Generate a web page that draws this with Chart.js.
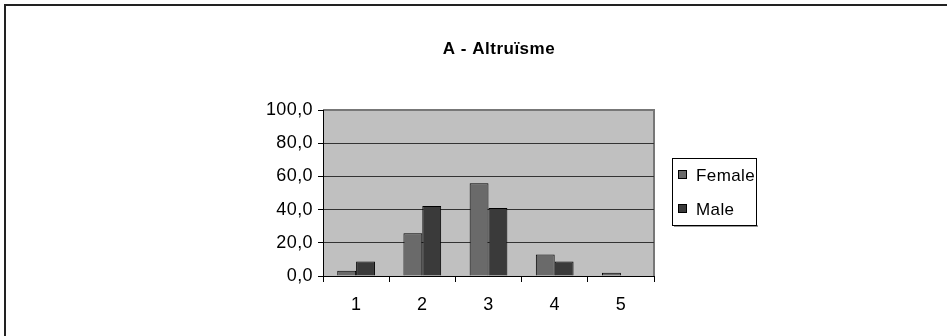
<!DOCTYPE html>
<html lang="fr">
<head>
  <meta charset="UTF-8" />
  <title>A - Altruïsme</title>
  <script src="https://cdn.jsdelivr.net/npm/chart.js"></script>
  <style>
    body {
      margin: 0;
      background: #fff;
      overflow: hidden;
      font-family: Arial, 'Liberation Sans', sans-serif;
    }
    .frame {
      position: absolute;
      left: 4px;
      top: 4px;
      width: 980px;
      height: 360px;
      border-left: 2px solid #222;
      border-top: 2px solid #222;
      pointer-events: none;
    }
    canvas { display: block; }
  </style>
</head>
<body>
  <canvas id="chart" width="947" height="336"></canvas>
  <div class="frame"></div>

  <script>
    const chartTitle = 'A - Altruïsme';
    const categories = ['1', '2', '3', '4', '5'];
    const female = [3.2, 25.8, 55.9, 12.9, 2.0];
    const male = [8.7, 42.1, 41.0, 8.7, 0];
    const yTicks = [0, 20, 40, 60, 80, 100];

    const FONT = "Arial, 'Liberation Sans', sans-serif";

    // grey plot background + grey top/right edge like the old Excel chart
    const plotBackground = {
      id: 'plotBackground',
      beforeDraw(chart) {
        const { ctx, chartArea: a } = chart;
        ctx.save();
        ctx.fillStyle = '#c0c0c0';
        ctx.fillRect(a.left, a.top, a.right - a.left, a.bottom - a.top);
        ctx.strokeStyle = '#777';
        ctx.lineWidth = 2;
        ctx.beginPath();
        ctx.moveTo(a.left, a.top);
        ctx.lineTo(a.right, a.top);
        ctx.lineTo(a.right, a.bottom);
        ctx.stroke();
        ctx.restore();
        // the source text is a bit wide, spread the axis labels a little
        if ('letterSpacing' in ctx) ctx.letterSpacing = '0.4px';
      }
    };

    // title and boxed legend drawn at fixed spots
    const titleAndLegend = {
      id: 'titleAndLegend',
      afterDraw(chart) {
        const { ctx } = chart;
        ctx.save();
        if ('letterSpacing' in ctx) ctx.letterSpacing = '0.5px';
        ctx.fillStyle = '#000';
        ctx.font = 'bold 17px ' + FONT;
        ctx.textAlign = 'center';
        ctx.textBaseline = 'middle';
        ctx.fillText(chartTitle, 499, 49);

        const bx = 672, by = 158, bw = 84, bh = 67;
        ctx.fillStyle = '#999';
        ctx.fillRect(bx + 2, by + bh, bw, 2);
        ctx.fillStyle = '#fff';
        ctx.fillRect(bx, by, bw, bh);
        ctx.strokeStyle = '#000';
        ctx.lineWidth = 1;
        ctx.strokeRect(bx + 0.5, by + 0.5, bw, bh);

        if ('letterSpacing' in ctx) ctx.letterSpacing = '0.4px';
        ctx.font = '17px ' + FONT;
        ctx.textAlign = 'left';
        chart.data.datasets.forEach((ds, i) => {
          const cy = 175 + i * 34;
          ctx.fillStyle = ds.backgroundColor;
          ctx.fillRect(678.5, cy - 4.5, 8, 8);
          ctx.strokeStyle = '#000';
          ctx.strokeRect(678.5, cy - 4.5, 8, 8);
          ctx.fillStyle = '#000';
          ctx.fillText(ds.label, 696, cy + 1);
        });
        ctx.restore();
      }
    };

    new Chart(document.getElementById('chart'), {
      type: 'bar',
      data: {
        labels: categories,
        datasets: [
          { label: 'Female', data: female, backgroundColor: '#6a6a6a', borderColor: '#000', borderWidth: 1 },
          { label: 'Male', data: male, backgroundColor: '#3a3a3a', borderColor: '#000', borderWidth: 1 }
        ]
      },
      options: {
        responsive: false,
        animation: false,
        layout: { padding: { left: 0, top: 110, right: 293, bottom: 0 } },
        datasets: { bar: { categoryPercentage: 0.57, barPercentage: 1.0 } },
        plugins: {
          legend: { display: false },
          title: { display: false },
          tooltip: { enabled: false }
        },
        scales: {
          x: {
            afterFit(scale) { scale.height = 60; },
            grid: {
              offset: true,
              drawOnChartArea: false,
              drawTicks: true,
              tickLength: 6,
              tickColor: '#000'
            },
            border: { color: '#000', width: 1 },
            ticks: { color: '#000', padding: 12, font: { family: FONT, size: 18 } }
          },
          y: {
            min: 0,
            max: 100,
            afterFit(scale) { scale.width = 323; },
            afterBuildTicks(scale) { scale.ticks = yTicks.map(v => ({ value: v })); },
            grid: {
              color: ctx => ctx.tick && ctx.tick.value === 100 ? '#777' : '#333',
              lineWidth: 1,
              tickLength: 5,
              tickColor: '#000'
            },
            border: { color: '#000', width: 1 },
            ticks: {
              color: '#000',
              padding: 5,
              font: { family: FONT, size: 18 },
              callback: v => v.toFixed(1).replace('.', ',')
            }
          }
        }
      },
      plugins: [plotBackground, titleAndLegend]
    });
  </script>
</body>
</html>
